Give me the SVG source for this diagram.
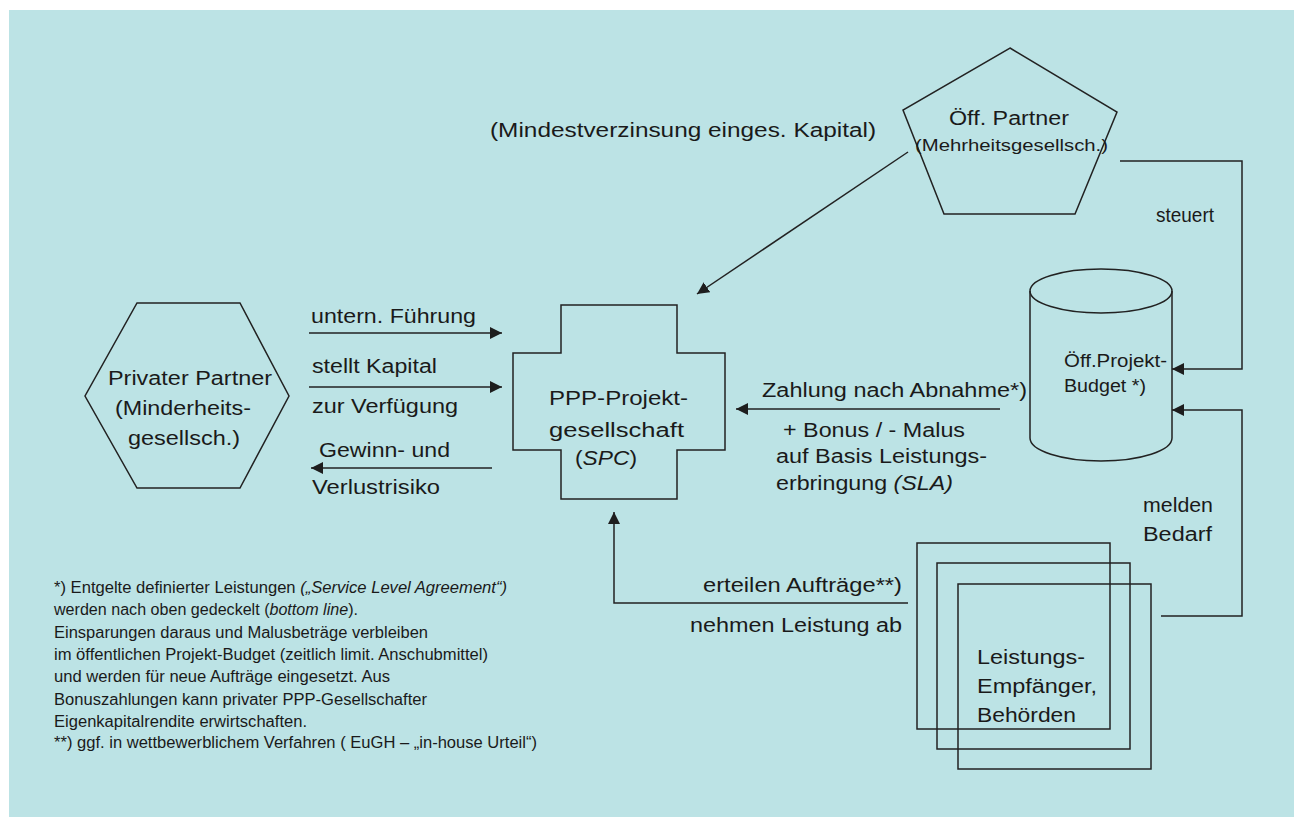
<svg xmlns="http://www.w3.org/2000/svg" width="1294" height="817" viewBox="0 0 1294 817">
<style>
.bg{fill:#bce3e5}
.shape{fill:none;stroke:#222;stroke-width:1.5}
.con{fill:none;stroke:#222;stroke-width:1.5}
text{font-family:"Liberation Sans",Arial,sans-serif;fill:#1a1a1a}
.l{font-size:20px}
.m{font-size:18px}
.s{font-size:16px}
.fn{font-size:16px}
.it{font-style:italic}
</style>
<defs>
<marker id="ah" viewBox="0 0 12 12" refX="12" refY="6" markerWidth="12" markerHeight="12" markerUnits="userSpaceOnUse" orient="auto">
<path d="M0,0 L12,6 L0,12 z" fill="#1e1e1e"/>
</marker>
</defs>
<rect x="0" y="0" width="1294" height="817" fill="#ffffff"/>
<rect class="bg" x="9" y="10" width="1285" height="807"/>

<g id="connectors">
<line class="con" x1="908" y1="152" x2="697" y2="294" marker-end="url(#ah)"/>
<line class="con" x1="309" y1="333" x2="502" y2="333" marker-end="url(#ah)"/>
<line class="con" x1="309" y1="387" x2="502" y2="387" marker-end="url(#ah)"/>
<line class="con" x1="492" y1="468" x2="311" y2="468" marker-end="url(#ah)"/>
<line class="con" x1="1000" y1="409" x2="736" y2="409" marker-end="url(#ah)"/>
<polyline class="con" points="1120,161 1242,161 1242,369 1172,369" marker-end="url(#ah)"/>
<polyline class="con" points="1161,616 1242,616 1242,410 1172,410" marker-end="url(#ah)"/>
<polyline class="con" points="908,603 614,603 614,512" marker-end="url(#ah)"/>
</g>

<g id="oeff-partner">
<polygon class="shape" points="1010,48 1117,112 1075,214 944,214 903,110"/>
<text class="l" x="949" y="125" textLength="120" lengthAdjust="spacingAndGlyphs">Öff. Partner</text>
<text class="s" x="915" y="151" textLength="193" lengthAdjust="spacingAndGlyphs">(Mehrheitsgesellsch.)</text>
</g>

<g id="mindest-label">
<text class="l" x="490" y="137" textLength="386" lengthAdjust="spacingAndGlyphs">(Mindestverzinsung einges. Kapital)</text>
</g>

<g id="budget">
<path class="shape" d="M1030,291 L1030,438 A71,23 0 0 0 1172,438 L1172,291"/>
<ellipse class="shape" cx="1101" cy="291" rx="71" ry="22"/>
<text class="m" x="1064" y="367" textLength="103" lengthAdjust="spacingAndGlyphs">Öff.Projekt-</text>
<text class="m" x="1064" y="392" textLength="82" lengthAdjust="spacingAndGlyphs">Budget *)</text>
</g>

<g id="privater-partner">
<polygon class="shape" points="137,303 240,303 289,396 240,488 137,488 85,396"/>
<text class="l" x="108" y="385" textLength="164" lengthAdjust="spacingAndGlyphs">Privater Partner</text>
<text class="l" x="115" y="415" textLength="136" lengthAdjust="spacingAndGlyphs">(Minderheits-</text>
<text class="l" x="128" y="445" textLength="112" lengthAdjust="spacingAndGlyphs">gesellsch.)</text>
</g>

<g id="spc">
<polygon class="shape" points="561,305 677,305 677,353 725,353 725,450 677,450 677,499 561,499 561,450 513,450 513,353 561,353"/>
<text class="l" x="549" y="405" textLength="139" lengthAdjust="spacingAndGlyphs">PPP-Projekt-</text>
<text class="l" x="549" y="437" textLength="135" lengthAdjust="spacingAndGlyphs">gesellschaft</text>
<text class="l" x="575" y="465" textLength="62" lengthAdjust="spacingAndGlyphs">(<tspan class="it">SPC</tspan>)</text>
</g>

<g id="leistungsempfaenger">
<rect class="shape" x="917" y="543" width="193" height="186"/>
<rect class="shape" x="937" y="563" width="193" height="186"/>
<rect class="shape" x="958" y="584" width="193" height="185"/>
<text class="l" x="977" y="664" textLength="108" lengthAdjust="spacingAndGlyphs">Leistungs-</text>
<text class="l" x="977" y="693" textLength="120" lengthAdjust="spacingAndGlyphs">Empfänger,</text>
<text class="l" x="977" y="722" textLength="99" lengthAdjust="spacingAndGlyphs">Behörden</text>
</g>

<g id="labels">
<text class="l" x="1156" y="222" textLength="58" lengthAdjust="spacingAndGlyphs">steuert</text>
<text class="l" x="311" y="323" textLength="165" lengthAdjust="spacingAndGlyphs">untern. Führung</text>
<text class="l" x="312" y="373" textLength="125" lengthAdjust="spacingAndGlyphs">stellt Kapital</text>
<text class="l" x="312" y="413" textLength="146" lengthAdjust="spacingAndGlyphs">zur Verfügung</text>
<text class="l" x="319" y="457" textLength="131" lengthAdjust="spacingAndGlyphs">Gewinn- und</text>
<text class="l" x="312" y="494" textLength="128" lengthAdjust="spacingAndGlyphs">Verlustrisiko</text>
<text class="l" x="762" y="397" textLength="265" lengthAdjust="spacingAndGlyphs">Zahlung nach Abnahme*)</text>
<text class="l" x="783" y="437" textLength="182" lengthAdjust="spacingAndGlyphs">+ Bonus / - Malus</text>
<text class="l" x="776" y="463" textLength="211" lengthAdjust="spacingAndGlyphs">auf Basis Leistungs-</text>
<text class="l" x="776" y="490" textLength="177" lengthAdjust="spacingAndGlyphs">erbringung <tspan class="it">(SLA)</tspan></text>
<text class="l" x="703" y="592" textLength="199" lengthAdjust="spacingAndGlyphs">erteilen Aufträge**)</text>
<text class="l" x="690" y="632" textLength="212" lengthAdjust="spacingAndGlyphs">nehmen Leistung ab</text>
<text class="l" x="1143" y="512" textLength="70" lengthAdjust="spacingAndGlyphs">melden</text>
<text class="l" x="1143" y="541" textLength="69" lengthAdjust="spacingAndGlyphs">Bedarf</text>
</g>

<g id="footnotes">
<text class="fn" x="54" y="593" textLength="453" lengthAdjust="spacingAndGlyphs">*) Entgelte definierter Leistungen <tspan class="it">(„Service Level Agreement“)</tspan></text>
<text class="fn" x="54" y="615" textLength="304" lengthAdjust="spacingAndGlyphs">werden nach oben gedeckelt (<tspan class="it">bottom line</tspan>).</text>
<text class="fn" x="54" y="638" textLength="374" lengthAdjust="spacingAndGlyphs">Einsparungen daraus und Malusbeträge verbleiben</text>
<text class="fn" x="54" y="660" textLength="434" lengthAdjust="spacingAndGlyphs">im öffentlichen Projekt-Budget (zeitlich limit. Anschubmittel)</text>
<text class="fn" x="54" y="682" textLength="336" lengthAdjust="spacingAndGlyphs">und werden für neue Aufträge eingesetzt. Aus</text>
<text class="fn" x="54" y="705" textLength="373" lengthAdjust="spacingAndGlyphs">Bonuszahlungen kann privater PPP-Gesellschafter</text>
<text class="fn" x="54" y="727" textLength="253" lengthAdjust="spacingAndGlyphs">Eigenkapitalrendite erwirtschaften.</text>
<text class="fn" x="54" y="748" textLength="483" lengthAdjust="spacingAndGlyphs">**) ggf. in wettbewerblichem Verfahren ( EuGH – „in-house Urteil“)</text>
</g>
</svg>
